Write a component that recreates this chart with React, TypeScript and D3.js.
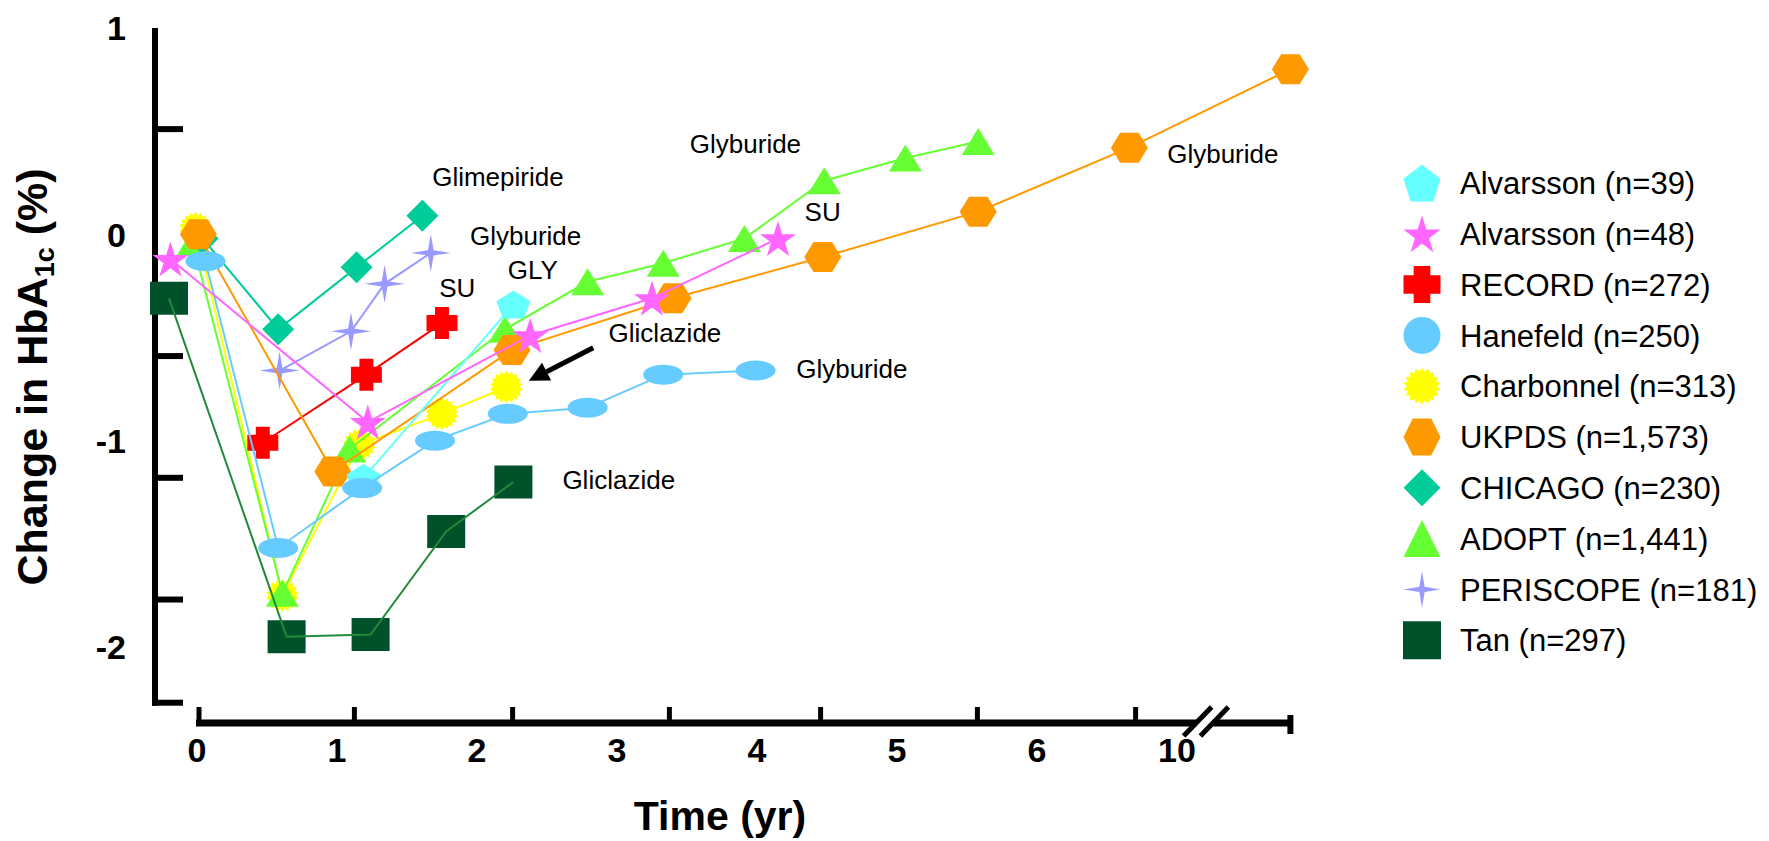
import React from 'react';
import * as d3 from 'd3';

const FONT = '"Liberation Sans", Arial, Helvetica, sans-serif';

// Axis labels. x positions are in label slots (slot 7 = "10" after the break)
const xTickLabels = ['0', '1', '2', '3', '4', '5', '6', '10'];
const yTickLabels = [1, 0, -1, -2];
// unlabeled tick marks, where the original figure puts them
const xTickMarks = [0, 1.11, 2.24, 3.36, 4.44, 5.56, 6.69];
const yTickMarks = [0.51, -0.59, -1.18, -1.77];

// Series: [time, change in HbA1c (%)]
const alvarsson39 = [[1.19, -1.18], [2.26, -0.34]];
const alvarsson48 = [[-0.19, -0.12], [1.22, -0.91], [2.38, -0.49], [3.25, -0.31], [4.15, -0.02]];
const record = [[0.47, -1.01], [1.21, -0.68], [1.75, -0.43]];
const hanefeld = [[0.06, -0.13], [0.58, -1.52], [1.18, -1.23], [1.7, -1.0], [2.22, -0.87], [2.79, -0.84], [3.33, -0.68], [3.99, -0.66]];
const charbonnel = [[-0.01, 0.03], [0.61, -1.75], [1.16, -1.02], [1.75, -0.87], [2.21, -0.74]];
const ukpds = [[0.01, 0], [0.97, -1.15], [2.25, -0.56], [3.4, -0.31], [4.47, -0.11], [5.58, 0.11], [6.66, 0.42], [7.81, 0.8]];
const chicago = [[0.04, -0.02], [0.58, -0.46], [1.14, -0.16], [1.61, 0.09]];
const adopt = [[-0.03, -0.04], [0.61, -1.74], [1.09, -1.04], [2.2, -0.46], [2.79, -0.23], [3.33, -0.14], [3.91, -0.02], [4.48, 0.26], [5.06, 0.37], [5.58, 0.45]];
const periscope = [[0.59, -0.66], [1.1, -0.47], [1.34, -0.24], [1.67, -0.09]];
const tan = [[-0.2, -0.31], [0.64, -1.95], [1.24, -1.94], [1.78, -1.44], [2.26, -1.2]];

const seriesNames = [
  'Alvarsson (n=39)',
  'Alvarsson (n=48)',
  'RECORD (n=272)',
  'Hanefeld (n=250)',
  'Charbonnel (n=313)',
  'UKPDS (n=1,573)',
  'CHICAGO (n=230)',
  'ADOPT (n=1,441)',
  'PERISCOPE (n=181)',
  'Tan (n=297)',
];
const seriesData = [alvarsson39, alvarsson48, record, hanefeld, charbonnel, ukpds, chicago, adopt, periscope, tan];

// drug labels next to the curves: [text, time, change]
const annotations: [string, number, number][] = [
  ['Glimepiride', 1.68, 0.28],
  ['Glyburide', 1.95, -0.01],
  ['GLY', 2.22, -0.17],
  ['SU', 1.73, -0.26],
  ['Gliclazide', 2.94, -0.48],
  ['Gliclazide', 2.61, -1.19],
  ['Glyburide', 3.52, 0.44],
  ['SU', 4.34, 0.11],
  ['Glyburide', 4.28, -0.65],
  ['Glyburide', 6.93, 0.39],
];
const arrowFrom = [2.83, -0.55];
const arrowTo = [2.37, -0.71];

const styles = [
  { color: '#66FFFF', shape: 'pentagon', w: 34, h: 28 },
  { color: '#FF66FF', shape: 'star5', w: 36, h: 35 },
  { color: '#FF0000', shape: 'cross', w: 31, h: 32 },
  { color: '#66CCFF', shape: 'ellipse', w: 40, h: 20 },
  { color: '#FFFF00', shape: 'burst', w: 33, h: 33 },
  { color: '#FF9900', shape: 'hexagon', w: 37, h: 30 },
  { color: '#00CC99', shape: 'diamond', w: 32, h: 32 },
  { color: '#66FF33', shape: 'triangle', w: 33, h: 27 },
  { color: '#9999FF', shape: 'star4', w: 40, h: 38 },
  { color: '#00502A', shape: 'square', w: 38, h: 33, line: '#228B3B' },
];
// which series sit on top of which
const drawOrder = [4, 7, 9, 6, 8, 2, 5, 0, 3, 1];

function radial(n: number, inner: number | null, rotDeg: number): [number, number][] {
  const pts: [number, number][] = [];
  const step = (Math.PI * 2) / n;
  for (let i = 0; i < n; i++) {
    const a = (rotDeg * Math.PI) / 180 + i * step;
    pts.push([Math.cos(a), Math.sin(a)]);
    if (inner != null) {
      const b = a + step / 2;
      pts.push([inner * Math.cos(b), inner * Math.sin(b)]);
    }
  }
  return pts;
}

const shapePoints: Record<string, [number, number][]> = {
  pentagon: radial(5, null, -90),
  star5: radial(5, 0.382, -90),
  cross: [[-0.45, -1], [0.45, -1], [0.45, -0.5], [1, -0.5], [1, 0.5], [0.45, 0.5], [0.45, 1], [-0.45, 1], [-0.45, 0.5], [-1, 0.5], [-1, -0.5], [-0.45, -0.5]],
  burst: radial(18, 0.8, -90),
  hexagon: radial(6, null, 0),
  diamond: [[0, -1], [1, 0], [0, 1], [-1, 0]],
  triangle: [[0, -1], [1, 1], [-1, 1]],
  star4: radial(4, 0.2, -90),
  square: [[-1, -1], [1, -1], [1, 1], [-1, 1]],
};

function markerPath(shape: string, w: number, h: number) {
  if (shape === 'ellipse') {
    const rx = w / 2;
    const ry = h / 2;
    return `M${-rx},0A${rx},${ry} 0 1,0 ${rx},0A${rx},${ry} 0 1,0 ${-rx},0Z`;
  }
  const pts = shapePoints[shape];
  const [x0, x1] = d3.extent(pts, (p) => p[0]) as [number, number];
  const [y0, y1] = d3.extent(pts, (p) => p[1]) as [number, number];
  const sx = w / (x1 - x0);
  const sy = h / (y1 - y0);
  const cx = (x0 + x1) / 2;
  const cy = (y0 + y1) / 2;
  return 'M' + pts.map(([px, py]) => `${((px - cx) * sx).toFixed(2)},${((py - cy) * sy).toFixed(2)}`).join('L') + 'Z';
}

export default function App() {
  const width = 1769;
  const height = 841;

  const x = d3.scaleLinear().domain([0, 7]).range([197, 1177]);
  const y = d3.scaleLinear().domain([-2, 1]).range([647, 28]);

  const yAxisX = 155;
  const yAxisBottom = -2.27;
  const xAxisY = 723;
  const xAxisEnd = 7.81;
  const breakA = x(7.14);
  const breakB = x(7.26);

  const line = d3
    .line<number[]>()
    .x((d) => x(d[0]))
    .y((d) => y(d[1]));

  // arrow
  const ax0 = x(arrowFrom[0]);
  const ay0 = y(arrowFrom[1]);
  const ax1 = x(arrowTo[0]);
  const ay1 = y(arrowTo[1]);
  const alen = Math.hypot(ax1 - ax0, ay1 - ay0);
  const ux = (ax1 - ax0) / alen;
  const uy = (ay1 - ay0) / alen;
  const headL = 20;
  const headW = 10;
  const bx = ax1 - ux * headL;
  const by = ay1 - uy * headL;
  const head = `M${ax1},${ay1}L${bx - uy * headW},${by + ux * headW}L${bx + uy * headW},${by - ux * headW}Z`;

  const legendX = 1422;
  const legendTop = 183;
  const legendStep = 50.8;

  return (
    <div style={{ position: 'absolute', left: 0, top: 0 }}>
      <svg width={width} height={height} style={{ display: 'block', background: '#fff' }} fontFamily={FONT}>
        {/* y axis */}
        <g stroke="#000" strokeWidth={6}>
          <line x1={yAxisX} x2={yAxisX} y1={y(1)} y2={y(yAxisBottom) + 3} />
          <line x1={yAxisX - 3} x2={yAxisX + 28} y1={y(yAxisBottom)} y2={y(yAxisBottom)} />
          {yTickMarks.map((t) => (
            <line key={t} x1={yAxisX} x2={yAxisX + 28} y1={y(t)} y2={y(t)} />
          ))}
        </g>
        {yTickLabels.map((t) => (
          <text key={t} x={126} y={y(t)} dy="0.36em" textAnchor="end" fontSize={34} fontWeight="bold">
            {t}
          </text>
        ))}

        {/* x axis with break */}
        <g stroke="#000">
          <line x1={x(0) - 1} x2={breakA} y1={xAxisY} y2={xAxisY} strokeWidth={7} />
          <line x1={breakB} x2={x(xAxisEnd)} y1={xAxisY} y2={xAxisY} strokeWidth={7} />
          <line x1={x(xAxisEnd)} x2={x(xAxisEnd)} y1={xAxisY - 8} y2={xAxisY + 11} strokeWidth={6} />
          {xTickMarks.map((t) => (
            <line key={t} x1={x(t) + 2} x2={x(t) + 2} y1={xAxisY - 16} y2={xAxisY} strokeWidth={5} />
          ))}
          {[breakA, breakB].map((bxp) => (
            <line key={bxp} x1={bxp - 13} y1={xAxisY + 13} x2={bxp + 15} y2={xAxisY - 16} strokeWidth={5} />
          ))}
        </g>
        {xTickLabels.map((t, i) => (
          <text key={t} x={x(i)} y={762} textAnchor="middle" fontSize={34} fontWeight="bold">
            {t}
          </text>
        ))}

        {/* axis titles */}
        <text x={720} y={830} textAnchor="middle" fontSize={41} fontWeight="bold">
          Time (yr)
        </text>
        <text transform="translate(47,377) rotate(-90)" textAnchor="middle" fontSize={43} fontWeight="bold">
          Change in HbA
          <tspan fontSize={27} dy={7}>
            1c
          </tspan>
          <tspan dy={-7}>{' (%)'}</tspan>
        </text>

        {/* series */}
        {drawOrder.map((si) => {
          const s = styles[si];
          const data = seriesData[si];
          const path = markerPath(s.shape, s.w, s.h);
          const lineEl = (
            <path d={line(data) || ''} fill="none" stroke={s.line || s.color} strokeWidth={2} />
          );
          const marks = data.map((d, j) => (
            <path key={j} d={path} transform={`translate(${x(d[0])},${y(d[1])})`} fill={s.color} />
          ));
          return (
            <g key={si}>
              {s.line ? null : lineEl}
              {marks}
              {s.line ? lineEl : null}
            </g>
          );
        })}

        {/* drug annotations */}
        {annotations.map(([label, tx, ty], i) => (
          <text key={i} x={x(tx)} y={y(ty)} dy="0.35em" fontSize={26}>
            {label}
          </text>
        ))}
        <line x1={ax0} y1={ay0} x2={bx} y2={by} stroke="#000" strokeWidth={5} />
        <path d={head} fill="#000" />

        {/* legend */}
        {seriesNames.map((name, i) => {
          const s = styles[i];
          const ly = legendTop + i * legendStep;
          const size = s.shape === 'square' ? 38 : 37;
          return (
            <g key={name}>
              <path d={markerPath(s.shape, size, size)} transform={`translate(${legendX},${ly})`} fill={s.color} />
              <text x={legendX + 38} y={ly} dy="0.36em" fontSize={31}>
                {name}
              </text>
            </g>
          );
        })}
      </svg>
    </div>
  );
}
